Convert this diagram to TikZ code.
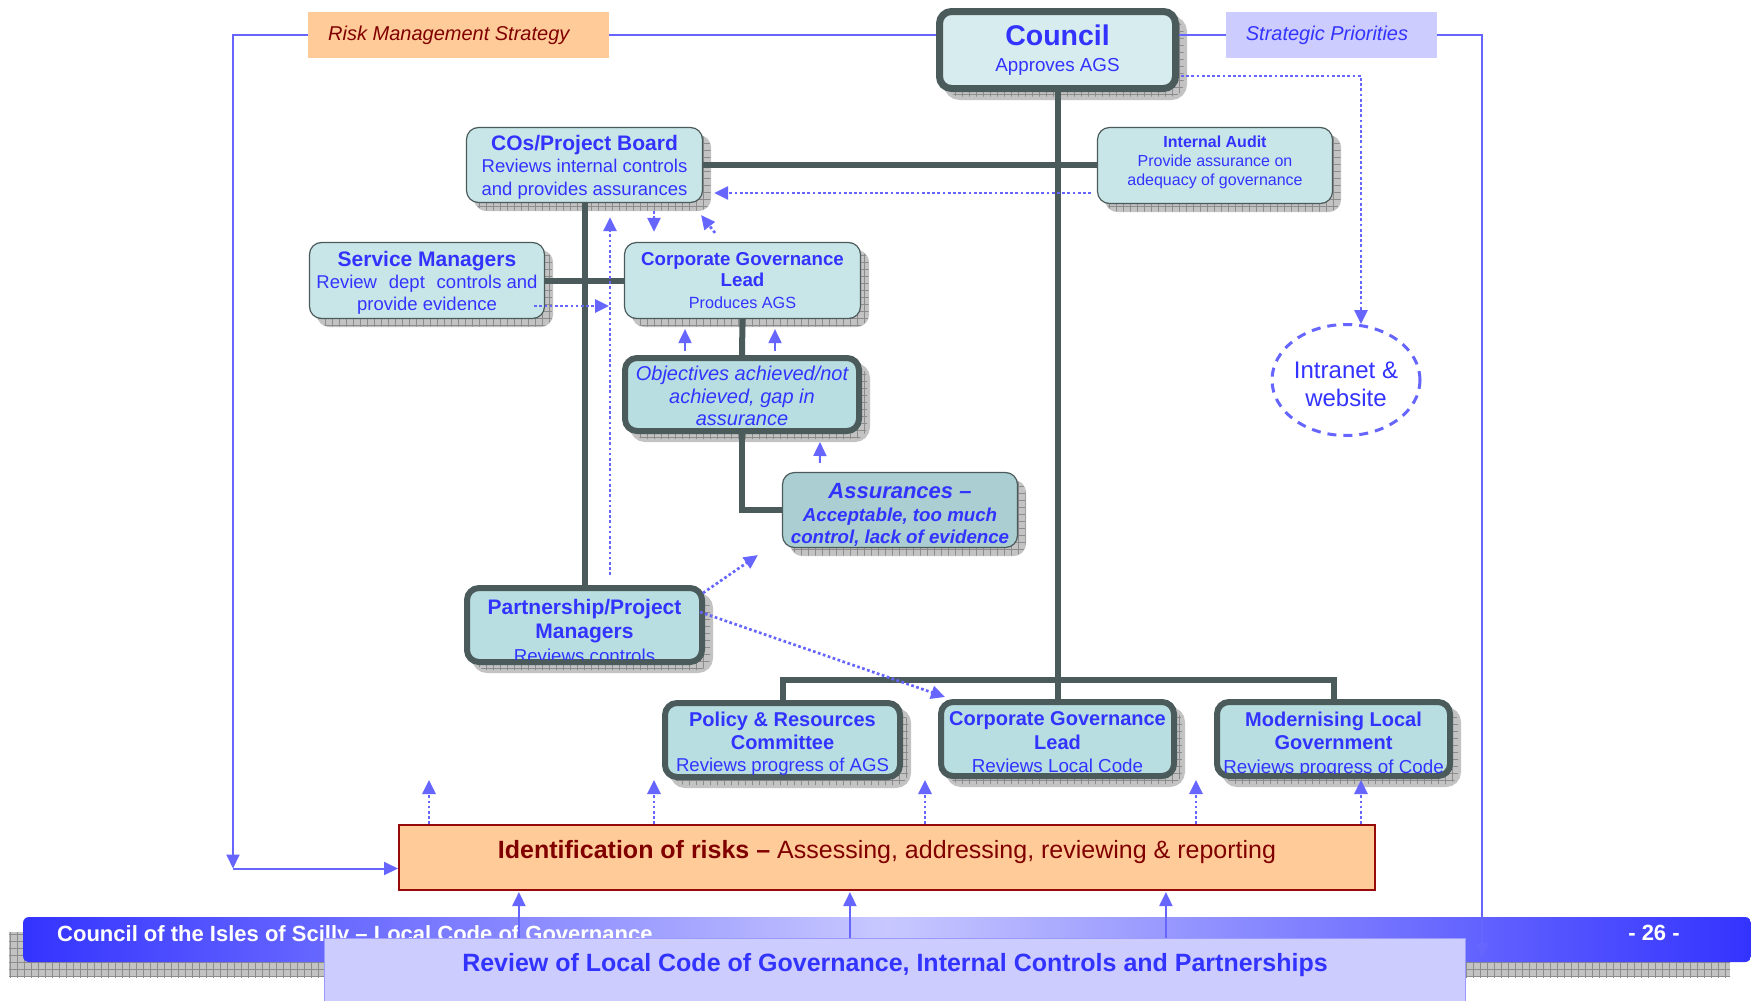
\documentclass[tikz,border=0pt]{standalone}
\usepackage{fontspec}
\setmainfont{Liberation Sans}
\usetikzlibrary{arrows.meta,shapes.geometric,shadows,patterns.meta,calc}

\definecolor{txtblue}{RGB}{51,51,255}
\definecolor{arrblue}{RGB}{102,102,255}
\definecolor{dkline}{RGB}{75,90,90}
\definecolor{boxfill}{RGB}{200,230,232}
\definecolor{cfill}{RGB}{215,236,238}
\definecolor{tfill}{RGB}{184,222,226}
\definecolor{afill}{RGB}{170,206,210}
\definecolor{peach}{RGB}{255,204,153}
\definecolor{dred}{RGB}{128,0,0}
\definecolor{bred}{RGB}{150,10,10}
\definecolor{lav}{RGB}{204,204,255}
\definecolor{lavline}{RGB}{153,153,255}
\definecolor{bnblue}{RGB}{51,51,255}
\definecolor{bnlight}{RGB}{200,200,255}
\definecolor{shfill}{RGB}{195,195,195}
\definecolor{shline}{RGB}{140,140,140}

\tikzdeclarepattern{
  name=shgrid,
  type=uncolored,
  bottom left={(-.5pt,-.5pt)},
  top right={(7.5pt,7.5pt)},
  tile size={(7pt,7pt)},
  code={\draw[line width=0.7pt] (0pt,3.5pt) -- (7pt,3.5pt) (3.5pt,0pt) -- (3.5pt,7pt);}
}

\begin{document}
\begin{tikzpicture}[x=1pt,y=-1pt,
  shadowed/.style={general shadow={shadow xshift=8pt,shadow yshift=-8pt,fill=shfill,draw=shfill},
                   general shadow={shadow xshift=8pt,shadow yshift=-8pt,pattern=shgrid,pattern color=shline}},
  thinbox/.style={shadowed, draw=dkline, line width=1.2pt, fill=boxfill, rounded corners=12pt, align=center, text=txtblue, inner sep=2pt},
  thickbox/.style={shadowed, draw=dkline, line width=6pt, fill=tfill, rounded corners=12pt, align=center, text=txtblue, inner sep=2pt},
  boxtext/.style={align=center, text=txtblue, inner sep=0pt},
  trunk/.style={draw=dkline, line width=6pt},
  bline/.style={draw=arrblue, line width=2pt},
  dotl/.style={draw=arrblue, line width=2.7pt, dash pattern=on 2.7pt off 2.5pt},
  atip/.style={-{Triangle[length=14pt,width=13pt]}},
]
\useasboundingbox (0,0) rectangle (1751,1001);
\fill[white] (0,0) rectangle (1751,1001);

% top labels
\node[fill=peach, minimum width=301pt, minimum height=46pt, inner sep=0pt] (risk) at (458.5,35) {};
\node[text=dred, font=\fontsize{20}{24}\selectfont\itshape, anchor=west, inner sep=0pt] (risktxt) at (328,35) {Risk Management Strategy};
\node[fill=lav, minimum width=211pt, minimum height=46pt, inner sep=0pt] (strat) at (1331.5,35) {};
\node[text=txtblue, font=\fontsize{20}{24}\selectfont\itshape, inner sep=0pt] (strattxt) at (1327,35) {Strategic Priorities};

% boxes
\node[thickbox, line width=7pt, fill=cfill, minimum width=236pt, minimum height=77pt, font=\fontsize{18.8}{26}\selectfont] (council) at (1057.5,50)
  {{\fontsize{28.5}{26}\selectfont\bfseries Council}\\Approves AGS};

\node[thinbox, minimum width=236pt, minimum height=75pt] (cos) at (584.5,165) {};
\node[boxtext, font=\fontsize{18.5}{22.5}\selectfont] (costxt) at (584.5,167)
  {{\fontsize{21}{22.5}\selectfont\bfseries COs/Project Board}\\Reviews internal controls\\and provides assurances};

\node[thinbox, minimum width=235pt, minimum height=76pt] (ia) at (1215,165.5) {};
\node[boxtext, font=\fontsize{16}{19}\selectfont] (iatxt) at (1215,162.5)
  {{\bfseries Internal Audit}\\Provide assurance on\\adequacy of governance};

\node[thinbox, minimum width=235pt, minimum height=76pt] (sm) at (427,280.5) {};
\node[boxtext, font=\fontsize{18.5}{22}\selectfont] (smtxt) at (427,282.5)
  {{\fontsize{21}{22}\selectfont\bfseries Service Managers}\\Review\hspace{0.64em}dept\hspace{0.64em}controls and\\provide evidence};

\node[thinbox, minimum width=236pt, minimum height=76pt, font=\fontsize{16.2}{21.5}\selectfont] (cgl) at (742.5,280.5)
  {{\fontsize{18.7}{21.5}\selectfont\bfseries Corporate Governance}\\{\fontsize{18.7}{21.5}\selectfont\bfseries Lead}\\Produces AGS};

\node[thickbox, minimum width=234pt, minimum height=73pt] (obj) at (742,394.5) {};
\node[boxtext, font=\fontsize{20}{22.5}\selectfont\itshape] (objtxt) at (742,396)
  {Objectives achieved/not\\achieved, gap in\\assurance};

\node[thinbox, fill=afill, minimum width=235pt, minimum height=75pt] (asr) at (900,510) {};
\node[boxtext, font=\fontsize{18.7}{22.5}\selectfont\bfseries\itshape] (asrtxt) at (900,515)
  {{\fontsize{22}{22.5}\selectfont Assurances –}\\Acceptable, too much\\control, lack of evidence};

\node[thickbox, minimum width=235pt, minimum height=74pt] (pm) at (584.5,625) {};
\begin{scope}
\clip[rounded corners=9pt] ($(pm.south west)+(6,-6)$) rectangle ($(pm.north east)+(-6,6)$);
\node[boxtext, font=\fontsize{18.7}{24}\selectfont] (pmtxt) at (584.5,631)
  {{\fontsize{21}{24}\selectfont\bfseries Partnership/Project}\\{\fontsize{21}{24}\selectfont\bfseries Managers}\\Reviews controls};
\end{scope}

\node[thickbox, minimum width=235pt, minimum height=74pt] (prc) at (782.5,740) {};
\begin{scope}
\clip[rounded corners=9pt] ($(prc.south west)+(6,-6)$) rectangle ($(prc.north east)+(-6,6)$);
\node[boxtext, font=\fontsize{18.6}{22.5}\selectfont] (prctxt) at (782.5,744)
  {{\fontsize{20}{22.5}\selectfont\bfseries Policy \& Resources}\\{\fontsize{20}{22.5}\selectfont\bfseries Committee}\\Reviews progress of AGS};
\end{scope}

\node[thickbox, minimum width=233pt, minimum height=74pt] (cgl2) at (1057.5,739) {};
\begin{scope}
\clip[rounded corners=9pt] ($(cgl2.south west)+(6,-6)$) rectangle ($(cgl2.north east)+(-6,6)$);
\node[boxtext, font=\fontsize{18.8}{23.5}\selectfont] (cgl2txt) at (1057.5,742.5)
  {{\fontsize{20}{23.5}\selectfont\bfseries Corporate Governance}\\{\fontsize{20}{23.5}\selectfont\bfseries Lead}\\Reviews Local Code};
\end{scope}

\node[thickbox, minimum width=233pt, minimum height=74pt] (mlg) at (1333.5,739) {};
\begin{scope}
\clip[rounded corners=9pt] ($(mlg.south west)+(6,-6)$) rectangle ($(mlg.north east)+(-6,6)$);
\node[boxtext, font=\fontsize{18.8}{23.5}\selectfont] (mlgtxt) at (1333.5,744.5)
  {{\fontsize{20}{23.5}\selectfont\bfseries Modernising Local}\\{\fontsize{20}{23.5}\selectfont\bfseries Government}\\Reviews progress of Code};
\end{scope}

\node[ellipse, draw=arrblue, line width=3pt, dash pattern=on 9pt off 7pt, minimum width=148pt, minimum height=111pt, inner sep=0pt] (intranet) at (1346,380) {};
\node[boxtext, font=\fontsize{24}{28}\selectfont] (intranettxt) at (1346,384) {Intranet \&\\website};

\node[fill=peach, draw=bred, line width=2pt, minimum width=976pt, minimum height=65pt, inner sep=0pt] (ident) at (887,857.5) {};
\node[text=dred, font=\fontsize{25}{30}\selectfont, inner sep=0pt] (identtxt) at (887,852.5) {\textbf{Identification of risks –} Assessing, addressing, reviewing \& reporting};

% dark connectors
\draw[trunk] (council.south) -- (cgl2.north);
\draw[trunk] (cos.east) -- (cos.east -| ia.west);
\draw[trunk] (cos.south) -- (pm.north);
\draw[trunk] (sm.east) -- (cgl.west);
\draw[trunk] (cgl.south) -- (obj.north);
\draw[trunk] (obj.south) |- (asr.west);
\coordinate (bus) at (1057.5,680);
\draw[trunk] (prc.north) |- (bus) -| (mlg.north);

% blue frame lines
\coordinate (lc) at (233,868.5);
\draw[bline, atip] (risk.west) -| (lc);
\draw[bline, atip] (lc) -- (lc -| ident.west);
\draw[bline] (risk.east) -- (risk.east -| council.west);
\draw[bline] (strat.west -| council.east) -- (strat.west);

% dotted arrows
\draw[dotl, atip] ($(ia.west)+(-6,27.5)$) -- ($(cos.east)+(11,28)$);
\draw[dotl, atip] ($(council.east)+(2,26)$) -| ($(intranet.north)+(15,1)$);
\draw[dotl, atip] ($(cos.south)+(69.5,8)$) -- ($(cgl.north)+(-88.5,-10)$);
\draw[dotl, atip] ($(cgl.north)+(-27.5,-9)$) -- ($(cos.south east)+(-2,12)$);
\draw[dotl, atip] ($(pm.north)+(25.5,-10)$) -- ($(cos.south)+(25.5,14)$);
\draw[dotl, atip] ($(sm.east)+(-11,25.5)$) -- ($(sm.east)+(64,25.5)$);
\draw[dotl, atip] ($(pm.north east)+(-2,8)$) -- ($(asr.south west)+(-24,7)$);
\draw[dotl, atip] ($(pm.east)+(-5,-13)$) -- ($(cgl2.north west)+(7,-2)$);
\foreach \dx in {31,256,527,798,963}
  \draw[dotl, atip] ($(ident.north west)+(\dx,0)$) -- ++(0,-44);

% solid short arrows
\draw[bline, atip] ($(obj.north)+(-57,-4)$) -- ($(cgl.south)+(-57.5,10)$);
\draw[bline, atip] ($(obj.north)+(33,-4)$) -- ($(cgl.south)+(32.5,10)$);
\draw[bline, atip] ($(asr.north west)+(38,-9)$) -- ($(obj.south)+(78,8)$);

% footer banner
\fill[shfill] (9,932) rectangle (1730,977);
\fill[pattern=shgrid, pattern color=shline] (9,932) rectangle (1730,977);
\shade[left color=bnblue, right color=bnblue, middle color=bnlight, rounded corners=6pt] (23,917) rectangle (1751,962);
\node[text=white, font=\fontsize{22}{26}\selectfont\bfseries, anchor=west, inner sep=0pt] (bantxt) at (57,935.5) {Council of the Isles of Scilly – Local Code of Governance};
\node[text=white, font=\fontsize{22}{26}\selectfont\bfseries, inner sep=0pt] (pagenum) at (1654,933) {- 26 -};

\node[fill=lav, draw=lavline, line width=1.2pt, minimum width=1141pt, minimum height=100pt, inner sep=0pt, anchor=north] (review) at (895,938) {};
\node[text=txtblue, font=\fontsize{25}{30}\selectfont\bfseries, inner sep=0pt] (revtxt) at (895,965.5) {Review of Local Code of Governance, Internal Controls and Partnerships};
\foreach \dx in {195,526,842}
  \draw[bline, atip] ($(review.north west)+(\dx,0)$) -- ++(0,-46);

\coordinate (rc) at (1482,957);
\draw[bline, atip] (strat.east) -| (rc);
\end{tikzpicture}
\end{document}
